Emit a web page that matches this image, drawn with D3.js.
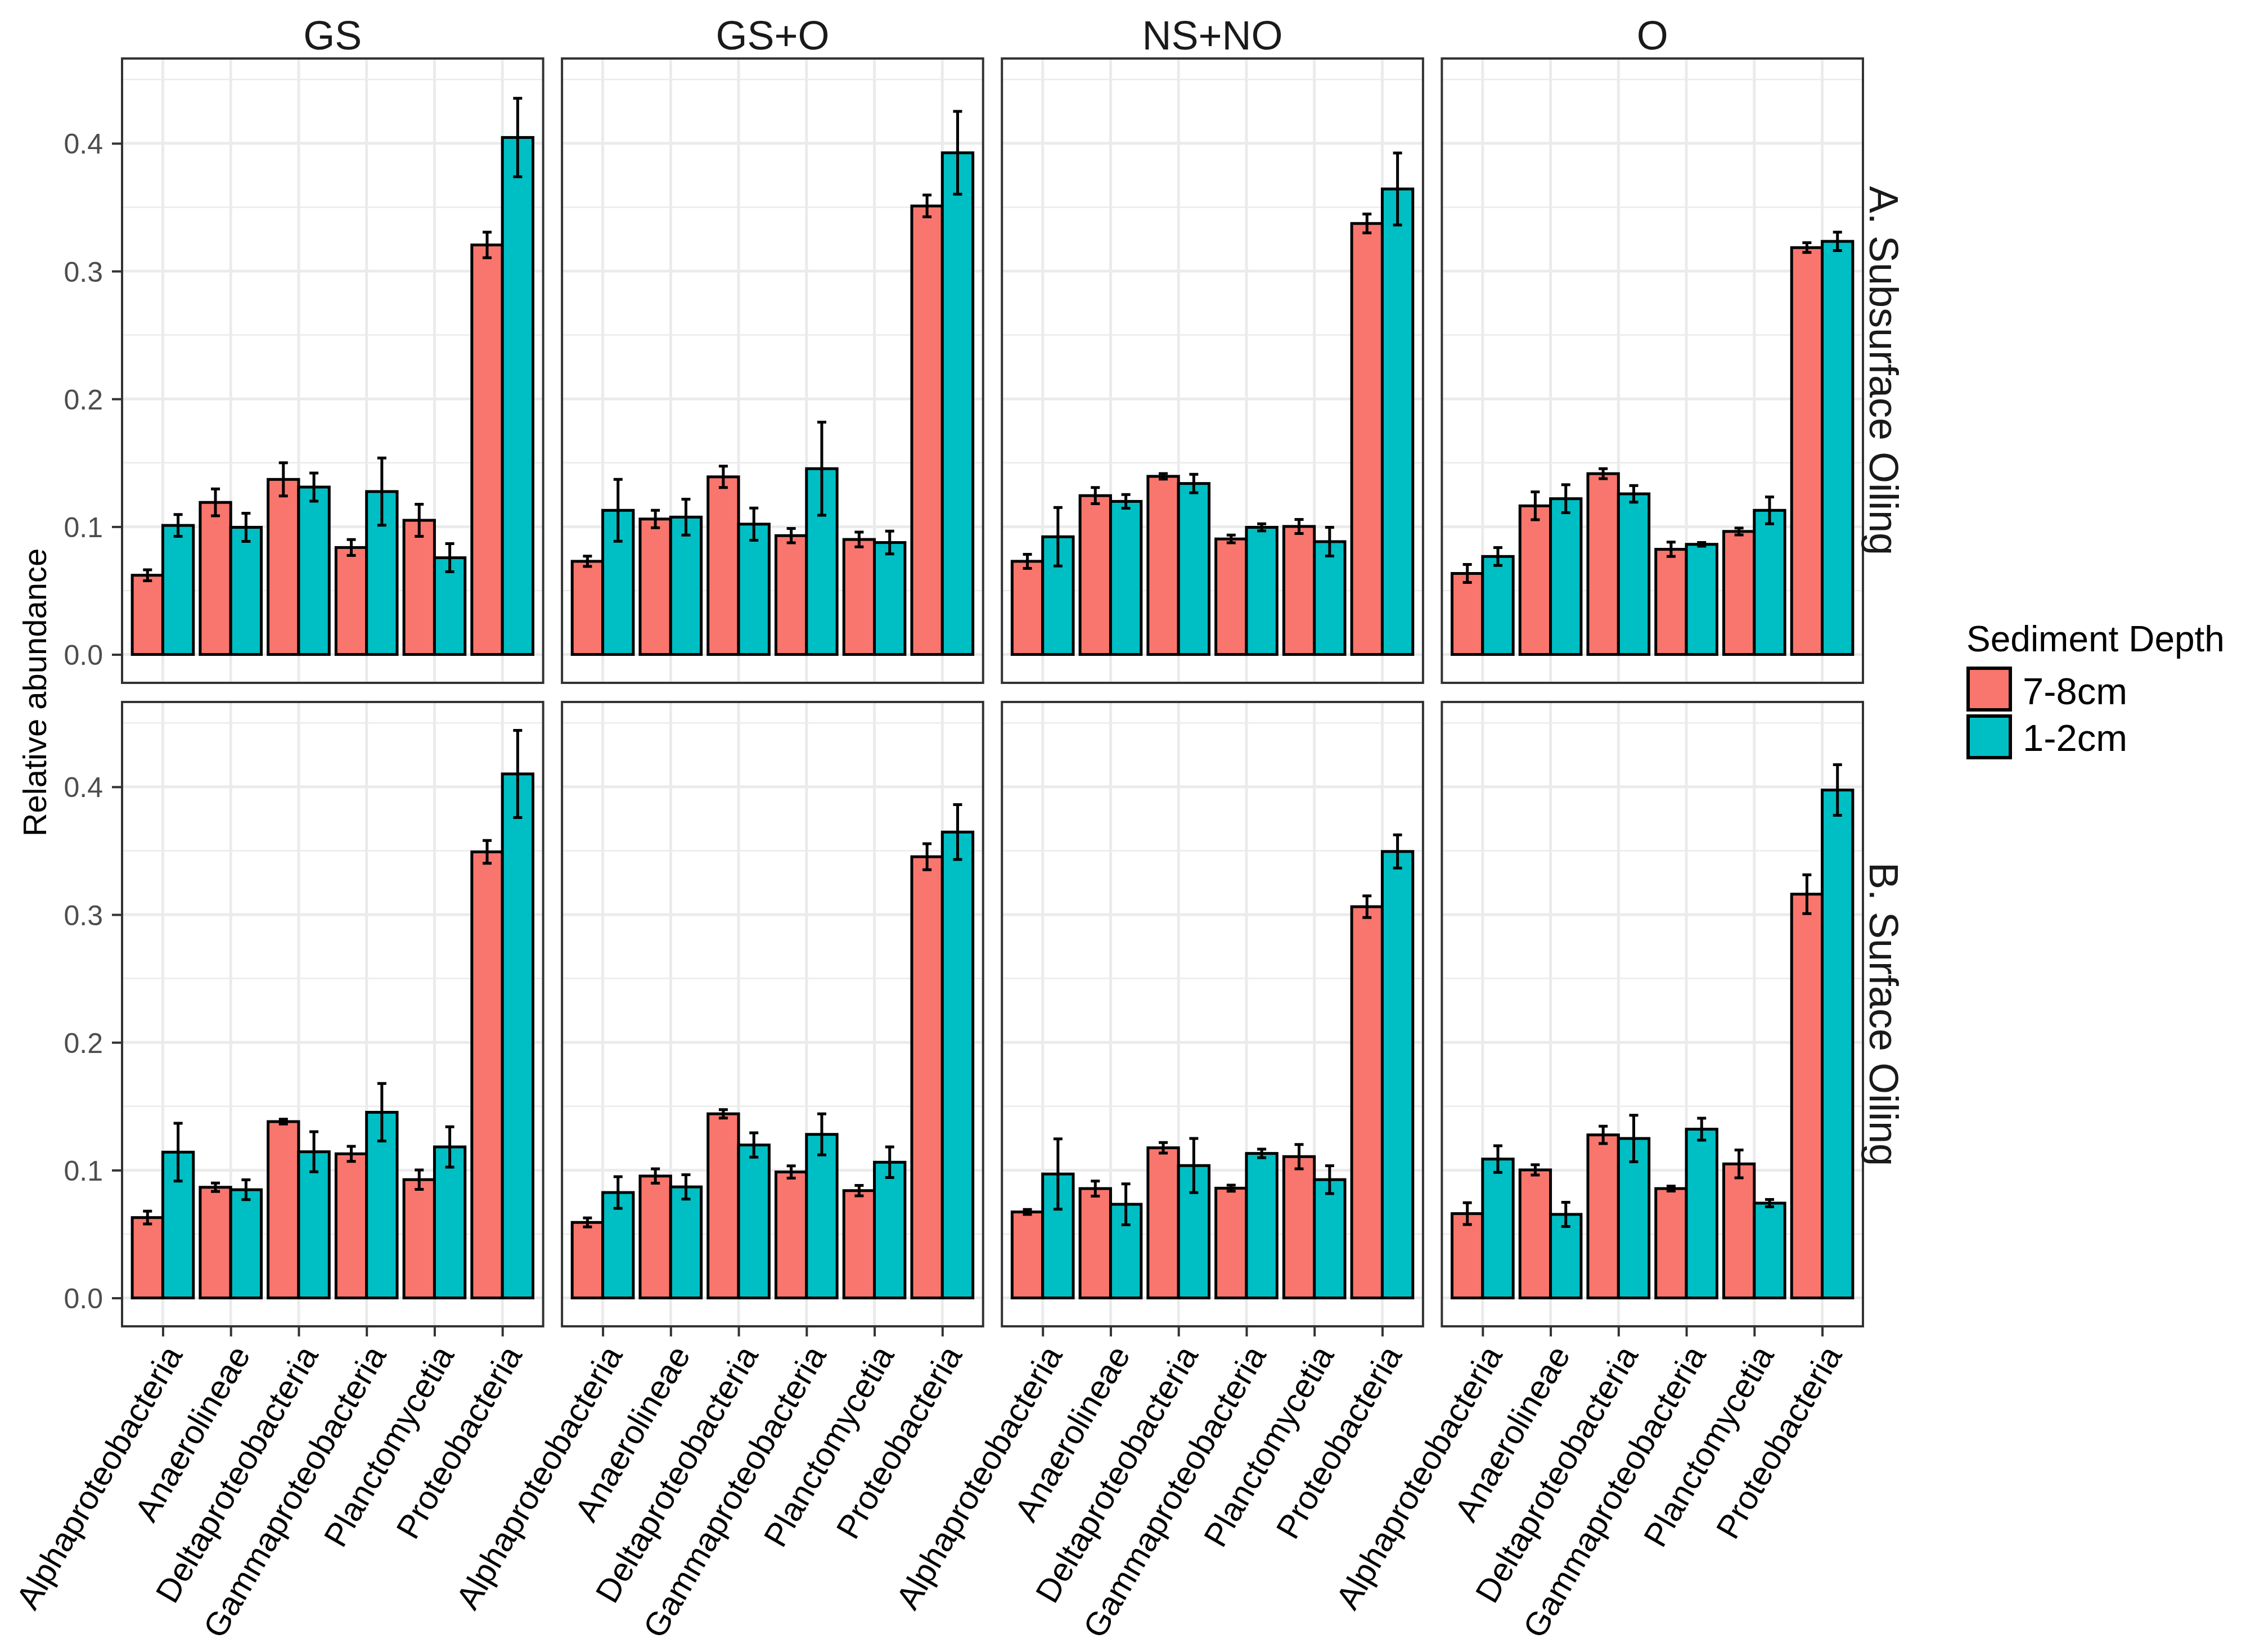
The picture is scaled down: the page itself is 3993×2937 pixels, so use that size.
<!DOCTYPE html>
<html>
<head>
<meta charset="utf-8">
<script src="https://cdn.jsdelivr.net/npm/d3@7"></script>
<style>
  html, body { margin: 0; padding: 0; background: #ffffff; }
  svg { display: block; }
</style>
</head>
<body>
<div id="chart"></div>
<script>
// ---------------- DATA ----------------
const categories = ["Alphaproteobacteria", "Anaerolineae", "Deltaproteobacteria", "Gammaproteobacteria", "Planctomycetia", "Proteobacteria"];
const treatments = ["GS", "GS+O", "NS+NO", "O"];
const oilings = ["A. Subsurface Oiling", "B. Surface Oiling"];
const depths = ["7-8cm", "1-2cm"];
const depthColors = ["#F8766D", "#00BFC4"];
const yTickValues = [0.0, 0.1, 0.2, 0.3, 0.4];
const yAxisTitle = "Relative abundance";
const legendTitle = "Sediment Depth";

// A. Subsurface Oiling: mean and standard error, per treatment and depth
const A_GS_78      = [0.0620, 0.1190, 0.1370, 0.0837, 0.1050, 0.3205];
const A_GS_78_se   = [0.0043, 0.0105, 0.0130, 0.0062, 0.0125, 0.0100];
const A_GS_12      = [0.1010, 0.0995, 0.1310, 0.1275, 0.0757, 0.4046];
const A_GS_12_se   = [0.0085, 0.0110, 0.0110, 0.0263, 0.0110, 0.0307];
const A_GSO_78     = [0.0729, 0.1060, 0.1390, 0.0930, 0.0900, 0.3510];
const A_GSO_78_se  = [0.0040, 0.0068, 0.0084, 0.0056, 0.0058, 0.0085];
const A_GSO_12     = [0.1128, 0.1075, 0.1020, 0.1454, 0.0876, 0.3926];
const A_GSO_12_se  = [0.0242, 0.0140, 0.0126, 0.0364, 0.0089, 0.0324];
const A_NSNO_78    = [0.0729, 0.1243, 0.1394, 0.0904, 0.1002, 0.3373];
const A_NSNO_78_se = [0.0055, 0.0063, 0.0021, 0.0030, 0.0055, 0.0074];
const A_NSNO_12    = [0.0921, 0.1198, 0.1338, 0.0995, 0.0883, 0.3643];
const A_NSNO_12_se = [0.0229, 0.0053, 0.0072, 0.0028, 0.0112, 0.0282];
const A_O_78       = [0.0634, 0.1163, 0.1415, 0.0823, 0.0963, 0.3184];
const A_O_78_se    = [0.0070, 0.0109, 0.0039, 0.0056, 0.0027, 0.0038];
const A_O_12       = [0.0767, 0.1219, 0.1257, 0.0862, 0.1128, 0.3233];
const A_O_12_se    = [0.0070, 0.0110, 0.0065, 0.0014, 0.0105, 0.0072];

// B. Surface Oiling
const B_GS_78      = [0.0629, 0.0866, 0.1380, 0.1128, 0.0926, 0.3491];
const B_GS_78_se   = [0.0050, 0.0033, 0.0019, 0.0059, 0.0076, 0.0089];
const B_GS_12      = [0.1141, 0.0847, 0.1144, 0.1453, 0.1182, 0.4101];
const B_GS_12_se   = [0.0226, 0.0078, 0.0157, 0.0225, 0.0158, 0.0341];
const B_GSO_78     = [0.0591, 0.0954, 0.1441, 0.0986, 0.0840, 0.3453];
const B_GSO_78_se  = [0.0035, 0.0056, 0.0033, 0.0048, 0.0041, 0.0102];
const B_GSO_12     = [0.0825, 0.0869, 0.1197, 0.1280, 0.1062, 0.3646];
const B_GSO_12_se  = [0.0124, 0.0095, 0.0095, 0.0161, 0.0120, 0.0215];
const B_NSNO_78    = [0.0673, 0.0856, 0.1175, 0.0859, 0.1106, 0.3062];
const B_NSNO_78_se = [0.0019, 0.0059, 0.0041, 0.0024, 0.0095, 0.0085];
const B_NSNO_12    = [0.0970, 0.0733, 0.1036, 0.1131, 0.0926, 0.3494];
const B_NSNO_12_se = [0.0275, 0.0160, 0.0212, 0.0034, 0.0109, 0.0130];
const B_O_78       = [0.0660, 0.1002, 0.1276, 0.0856, 0.1049, 0.3160];
const B_O_78_se    = [0.0085, 0.0040, 0.0068, 0.0019, 0.0109, 0.0152];
const B_O_12       = [0.1087, 0.0654, 0.1248, 0.1321, 0.0742, 0.3975];
const B_O_12_se    = [0.0104, 0.0095, 0.0182, 0.0086, 0.0029, 0.0198];

// panel table built from the arrays: [row][col] -> [[means, se] per depth]
const panelData = [
  [[[A_GS_78, A_GS_78_se], [A_GS_12, A_GS_12_se]],
   [[A_GSO_78, A_GSO_78_se], [A_GSO_12, A_GSO_12_se]],
   [[A_NSNO_78, A_NSNO_78_se], [A_NSNO_12, A_NSNO_12_se]],
   [[A_O_78, A_O_78_se], [A_O_12, A_O_12_se]]],
  [[[B_GS_78, B_GS_78_se], [B_GS_12, B_GS_12_se]],
   [[B_GSO_78, B_GSO_78_se], [B_GSO_12, B_GSO_12_se]],
   [[B_NSNO_78, B_NSNO_78_se], [B_NSNO_12, B_NSNO_12_se]],
   [[B_O_78, B_O_78_se], [B_O_12, B_O_12_se]]]
];

// ---------------- LAYOUT ----------------
const W = 3993, H = 2937;
const FONT = "'Liberation Sans', Arial, Helvetica, sans-serif";
const panelLeft = 217, panelRight = 3312, gapX = 33.5;
const pw = (panelRight - panelLeft - 3 * gapX) / 4;
const rowTops = [104, 1248];
const ph = 1110;

const svg = d3.select("#chart").append("svg")
  .attr("width", W).attr("height", H)
  .attr("viewBox", `0 0 ${W} ${H}`)
  .style("font-family", FONT);

svg.append("rect").attr("width", W).attr("height", H).attr("fill", "#ffffff");

// shared scales (fixed scales across facets)
let ymax = 0;
panelData.forEach(row => row.forEach(p => p.forEach(([m, s]) => {
  m.forEach((v, i) => { ymax = Math.max(ymax, v + s[i]); });
})));
const y = d3.scaleLinear().domain([-0.05 * ymax, 1.05 * ymax]).range([ph, 0]);
const x = d3.scalePoint().domain(categories).range([0, pw]).padding(0.6);
const step = x.step();
const barW = 0.45 * step;
const capHalf = 8;

const minorTicks = d3.range(0.05, y.domain()[1], 0.1);

panelData.forEach((row, r) => {
  row.forEach((panel, c) => {
    const gx = panelLeft + c * (pw + gapX);
    const gy = rowTops[r];
    const g = svg.append("g").attr("transform", `translate(${gx},${gy})`);

    g.append("rect").attr("width", pw).attr("height", ph).attr("fill", "#ffffff");

    // minor grid
    g.selectAll("line.minor").data(minorTicks).join("line")
      .attr("x1", 0).attr("x2", pw)
      .attr("y1", d => y(d)).attr("y2", d => y(d))
      .attr("stroke", "#EBEBEB").attr("stroke-width", 2.5);
    // major grid horizontal
    g.selectAll("line.majorY").data(yTickValues).join("line")
      .attr("x1", 0).attr("x2", pw)
      .attr("y1", d => y(d)).attr("y2", d => y(d))
      .attr("stroke", "#EBEBEB").attr("stroke-width", 5);
    // major grid vertical
    g.selectAll("line.majorX").data(categories).join("line")
      .attr("x1", d => x(d)).attr("x2", d => x(d))
      .attr("y1", 0).attr("y2", ph)
      .attr("stroke", "#EBEBEB").attr("stroke-width", 5);

    // bars
    panel.forEach(([means, ses], d) => {
      g.append("g").selectAll("rect").data(categories).join("rect")
        .attr("x", (cat) => x(cat) - barW + d * barW)
        .attr("width", barW)
        .attr("y", (cat, i) => y(means[i]))
        .attr("height", (cat, i) => y(0) - y(means[i]))
        .attr("fill", depthColors[d])
        .attr("stroke", "#000000")
        .attr("stroke-width", 5);
    });
    // error bars
    panel.forEach(([means, ses], d) => {
      g.append("g").selectAll("path").data(categories).join("path")
        .attr("d", (cat, i) => {
          const cx = x(cat) - barW / 2 + d * barW;
          const lo = y(means[i] - ses[i]);
          const hi = y(means[i] + ses[i]);
          return `M${cx - capHalf},${hi}H${cx + capHalf}M${cx},${hi}V${lo}M${cx - capHalf},${lo}H${cx + capHalf}`;
        })
        .attr("fill", "none")
        .attr("stroke", "#000000")
        .attr("stroke-width", 5);
    });

    // panel border
    g.append("rect").attr("width", pw).attr("height", ph)
      .attr("fill", "none").attr("stroke", "#333333").attr("stroke-width", 4);

    // y axis on leftmost panels
    if (c === 0) {
      const ya = g.append("g").call(
        d3.axisLeft(y).tickValues(yTickValues).tickFormat(d3.format(".1f"))
          .tickSize(18).tickPadding(16));
      ya.select(".domain").remove();
      ya.selectAll(".tick line").attr("stroke", "#333333").attr("stroke-width", 4);
      ya.selectAll(".tick text")
        .attr("fill", "#4D4D4D").style("font-size", "50px").style("font-family", FONT)
        .attr("dy", "0.36em");
    }

    // x axis on bottom row
    if (r === 1) {
      const xa = g.append("g").attr("transform", `translate(0,${ph})`)
        .call(d3.axisBottom(x).tickSize(18));
      xa.select(".domain").remove();
      xa.selectAll(".tick line").attr("stroke", "#333333").attr("stroke-width", 4);
      xa.selectAll(".tick text")
        .attr("fill", "#000000").style("font-size", "59px").style("font-family", FONT)
        .attr("text-anchor", "end")
        .attr("x", 36).attr("y", 50).attr("dy", null)
        .attr("transform", "rotate(-60, 36, 50)");
    }

    // top strips
    if (r === 0) {
      svg.append("text")
        .attr("x", gx + pw / 2).attr("y", 88)
        .attr("text-anchor", "middle")
        .attr("fill", "#1A1A1A").style("font-size", "72px")
        .text(treatments[c]);
    }
    // right strips
    if (c === 3) {
      svg.append("text")
        .attr("transform", `translate(${panelRight + 12},${gy + ph / 2}) rotate(90)`)
        .attr("text-anchor", "middle")
        .attr("fill", "#1A1A1A").style("font-size", "72px")
        .text(oilings[r]);
    }
  });
});

// y axis title
svg.append("text")
  .attr("transform", `translate(82,${(rowTops[0] + rowTops[1] + ph) / 2}) rotate(-90)`)
  .attr("text-anchor", "middle")
  .attr("fill", "#000000").style("font-size", "58px")
  .text(yAxisTitle);

// legend
const lg = svg.append("g").attr("transform", "translate(3496,1158)");
lg.append("text").attr("x", 0).attr("y", 0)
  .attr("fill", "#000000").style("font-size", "64px")
  .text(legendTitle);
depths.forEach((lab, i) => {
  lg.append("rect")
    .attr("x", 3).attr("y", 30 + i * 85)
    .attr("width", 75).attr("height", 74)
    .attr("fill", depthColors[i]).attr("stroke", "#000000").attr("stroke-width", 6);
  lg.append("text")
    .attr("x", 100).attr("y", 94 + i * 83)
    .attr("fill", "#000000").style("font-size", "67px")
    .text(lab);
});
</script>
</body>
</html>
